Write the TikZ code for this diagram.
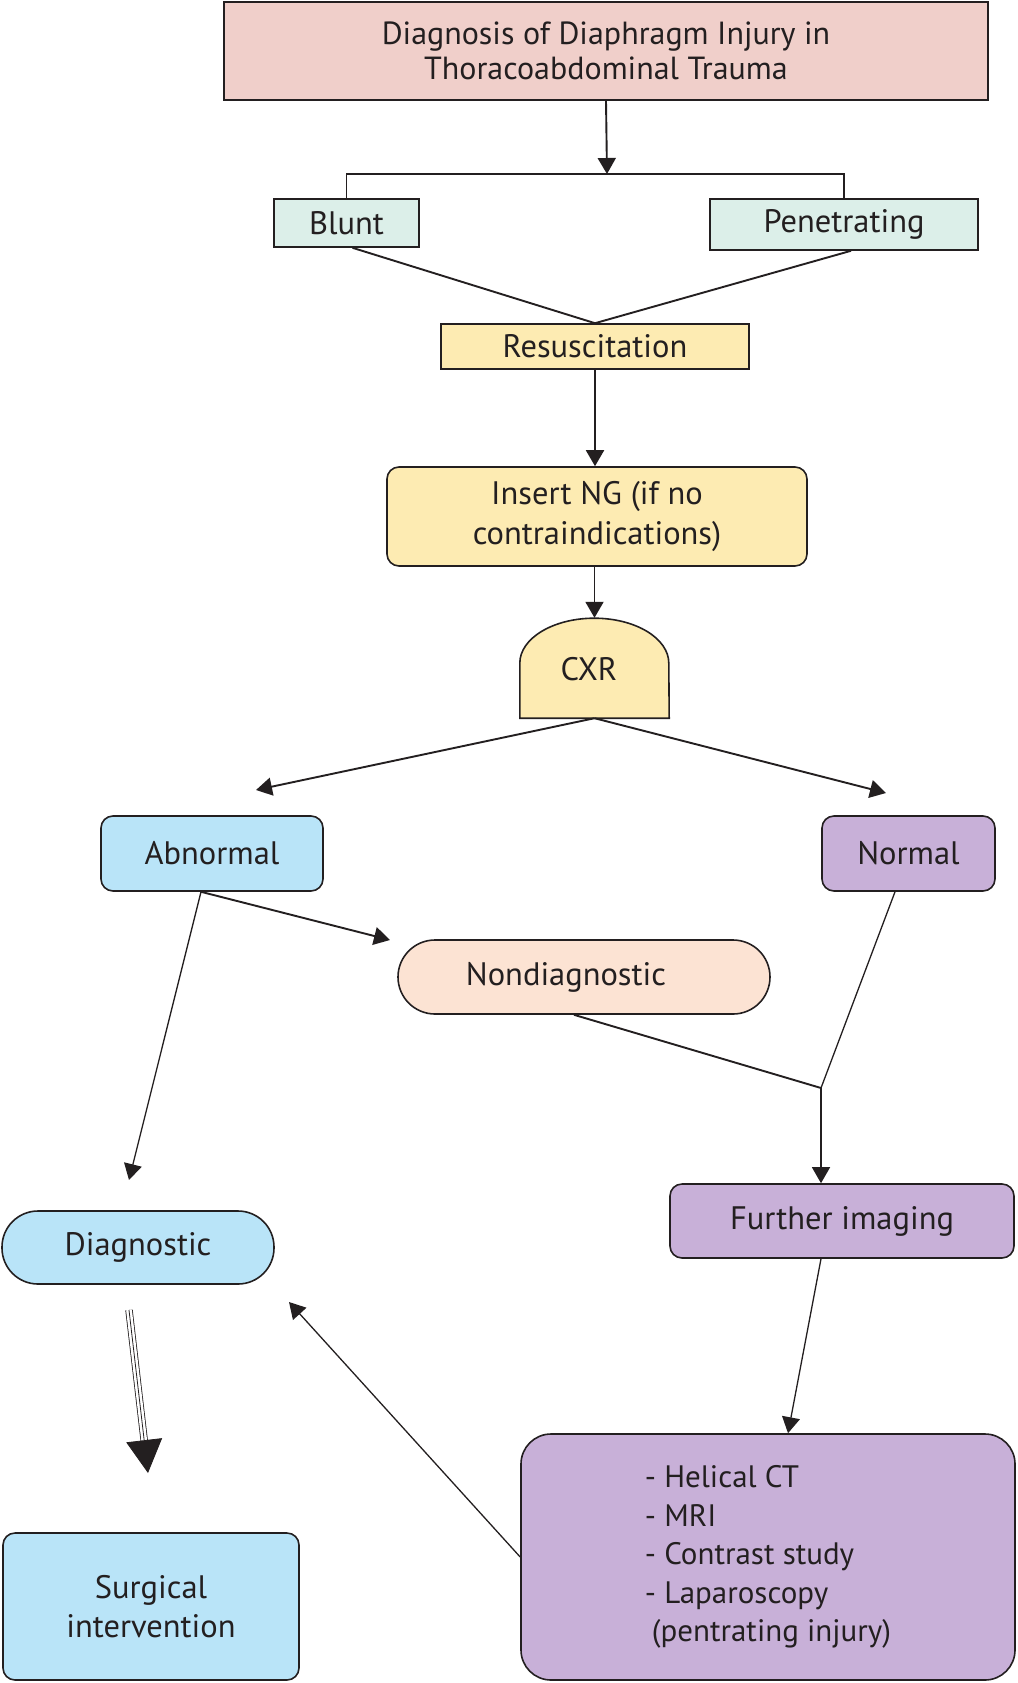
\documentclass[tikz,border=0pt]{standalone}
\usepackage{fontspec}
\setmainfont{PT Sans}
\usetikzlibrary{arrows.meta,calc}
\definecolor{textc}{RGB}{35,31,32}
\definecolor{linec}{RGB}{35,31,32}
\definecolor{titlec}{RGB}{240,207,202}
\definecolor{mint}{RGB}{220,239,233}
\definecolor{yel}{RGB}{253,235,178}
\definecolor{lblue}{RGB}{185,228,248}
\definecolor{lav}{RGB}{200,176,216}
\definecolor{peach}{RGB}{252,227,211}
\begin{document}
\begin{tikzpicture}[x=1pt,y=-1pt,
  box/.style={draw=linec, line width=1.6pt, inner sep=0pt, align=center, text=textc, font=\fontsize{32.5}{40}\selectfont},
  rbox/.style={box, rounded corners=12pt},
  conn/.style={draw=linec, line width=1.9pt},
  thinconn/.style={draw=linec, line width=1.3pt},
  arr/.style={-{Triangle[length=16pt,width=18pt]}}]
\useasboundingbox (0,0) rectangle (1017,1683);

\node[box, fill=titlec, minimum width=764pt, minimum height=98pt, font=\fontsize{32}{35}\selectfont] (title) at (606,51) {Diagnosis of Diaphragm Injury in\\Thoracoabdominal Trauma};
\node[box, fill=mint, minimum width=145pt, minimum height=48pt] (blunt) at (346.5,223) {Blunt};
\node[box, fill=mint, minimum width=268pt, minimum height=51pt] (pen) at (844,224.5) {Penetrating};
\node[box, fill=yel, minimum width=308pt, minimum height=45pt] (resus) at (595,346.5) {Resuscitation};
\node[rbox, fill=yel, minimum width=420pt, minimum height=99pt] (ng) at (597,516.5) {Insert NG (if no\\contraindications)};

\node[inner sep=0pt, minimum width=149pt, minimum height=100pt] (cxr) at (594.5,668) {};
\draw[fill=yel, draw=linec, line width=1.6pt] (cxr.south west) -- ++(0,-55) arc[start angle=180, end angle=0, x radius=74.5pt, y radius=45pt] -- (cxr.south east) -- cycle;
\node[text=textc, font=\fontsize{32.5}{40}\selectfont, inner sep=0pt] (cxrtext) at (589,669) {CXR};

\node[rbox, fill=lblue, minimum width=222pt, minimum height=75pt] (abn) at (212,853.5) {Abnormal};
\node[rbox, fill=lav, minimum width=173pt, minimum height=75pt] (nor) at (908.5,853.5) {Normal};
\node[box, rounded corners=37pt, fill=peach, minimum width=372pt, minimum height=74pt] (nond) at (584,977) {Nondiagnostic\hspace*{36pt}};
\node[rbox, fill=lav, minimum width=344pt, minimum height=74pt] (furth) at (842,1221) {Further imaging};
\node[box, rounded corners=36pt, fill=lblue, minimum width=272pt, minimum height=73pt] (diag) at (138,1247.5) {Diagnostic};
\node[rbox, fill=lblue, minimum width=296pt, minimum height=147pt, font=\fontsize{32.5}{39}\selectfont] (surg) at (151,1606.5) {Surgical\\intervention};
\node[box, rounded corners=30pt, fill=lav, minimum width=494pt, minimum height=246pt, align=left, font=\fontsize{31}{38.5}\selectfont] (big) at (768,1557) {- Helical CT\\- MRI\\- Contrast study\\- Laparoscopy\\\hspace*{7pt}(pentrating injury)};

\coordinate (split) at (607,174);
\coordinate (abnin) at (256,790);
\coordinate (norin) at (886,793);
\coordinate (ndin) at (390,940);
\coordinate (dgin) at (129,1180);
\coordinate (junc) at (821,1088);
\coordinate (dgin2) at (289,1302);
\coordinate (t1) at (129,1310);
\coordinate (t2) at (148,1473);

\draw[conn, arr] (title.south) -- (split);
\draw[conn] (blunt.north) -- (blunt.north |- split) -- (pen.north |- split) -- (pen.north);
\draw[conn] ([xshift=6pt]blunt.south) -- (resus.north);
\draw[conn] ([xshift=7pt]pen.south) -- (resus.north);
\draw[conn, arr] (resus.south) -- (resus.south |- ng.north);
\draw[conn, arr] (cxr.north |- ng.south) -- (cxr.north);
\draw[conn, arr] (cxr.south) -- (abnin);
\draw[conn, arr] (cxr.south) -- (norin);
\draw[conn, arr] ([xshift=-11pt]abn.south) -- (ndin);
\draw[thinconn, arr] ([xshift=-11pt]abn.south) -- (dgin);
\draw[conn] ([xshift=-10pt]nond.south) -- (junc);
\draw[thinconn] ([xshift=-13.5pt]nor.south) -- (junc);
\draw[thinconn, arr] (junc) -- (junc |- furth.north);
\draw[thinconn, arr] (junc |- furth.south) -- ([xshift=20pt]big.north);
\draw[thinconn, arr] (big.west) -- (dgin2);

\draw[draw=linec, line width=7.4pt] (t1) -- ($(t2)!32pt!(t1)$);
\draw[white, line width=5.8pt] (t1) -- ($(t2)!31pt!(t1)$);
\draw[draw=linec, line width=0.8pt, -{Triangle[length=33pt,width=36pt]}] (t1) -- (t2);
\end{tikzpicture}
\end{document}
